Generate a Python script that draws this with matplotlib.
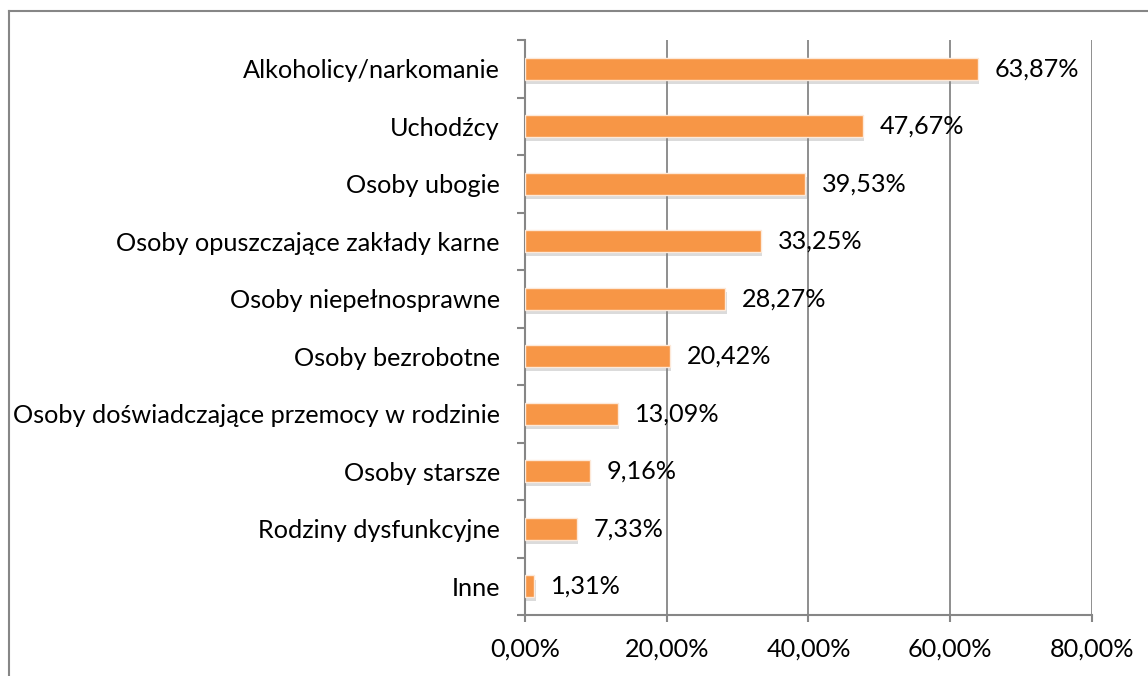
import numpy as np
import matplotlib
matplotlib.use("Agg")
import matplotlib.pyplot as plt
import matplotlib.patheffects as pe
from matplotlib.lines import Line2D

# ── data ───────────────────────────────────────────────────────────────────
categories = [
    "Alkoholicy/narkomanie",
    "Uchodźcy",
    "Osoby ubogie",
    "Osoby opuszczające zakłady karne",
    "Osoby niepełnosprawne",
    "Osoby bezrobotne",
    "Osoby doświadczające przemocy w rodzinie",
    "Osoby starsze",
    "Rodziny dysfunkcyjne",
    "Inne",
]
values = [63.87, 47.67, 39.53, 33.25, 28.27, 20.42, 13.09, 9.16, 7.33, 1.31]
xticks = [0, 20, 40, 60, 80]

BAR = "#F79646"
AXC = "#868686"
FONT = ["Lato", "DejaVu Sans"]
FS = 18.2

plt.rcParams["font.family"] = FONT

fig = plt.figure(figsize=(11.48, 6.76), dpi=100)
ax = fig.add_axes([0.4573, 0.0902, 0.9512 - 0.4573, 0.9408 - 0.0902])

n = len(categories)
ypos = np.arange(n)[::-1]  # first category at top

shadow = [pe.SimplePatchShadow(offset=(1, -3), shadow_rgbFace="#8a8a8a", alpha=0.3),
          pe.Normal()]
bars = ax.barh(ypos, values, height=0.38, color=BAR, edgecolor="#fde9d9",
               linewidth=1.0, zorder=3)
for b in bars:
    b.set_path_effects(shadow)

# value labels
for y, v in zip(ypos, values):
    ax.annotate(f"{v:.2f}%".replace(".", ","), (v, y), xytext=(17, 0),
                textcoords="offset pixels",
                va="center", ha="left", fontsize=FS, color="black", zorder=4)

ax.set_xlim(0, 80)
ax.set_ylim(-0.5, n - 0.5)
ax.set_xticks(xticks)
ax.set_xticklabels([f"{t:.2f}%".replace(".", ",") for t in xticks], fontsize=FS)
ax.set_yticks(ypos)
ax.set_yticklabels(categories, fontsize=FS)
ax.set_yticks(np.arange(-0.5, n, 1.0), minor=True)

ax.tick_params(axis="y", which="major", length=0, pad=18)
ax.tick_params(axis="y", which="minor", length=6, width=1.5, color=AXC, direction="out")
ax.tick_params(axis="x", which="major", length=5, width=1.5, color=AXC, direction="out", pad=11)

ax.grid(True, axis="x", color=AXC, linewidth=1.3, zorder=0)
ax.set_axisbelow(True)
for s in ["top", "right"]:
    ax.spines[s].set_visible(False)
for s in ["left", "bottom"]:
    ax.spines[s].set_color(AXC)
    ax.spines[s].set_linewidth(1.5)

# outer frame (top and left visible)
fig.add_artist(Line2D([8.5 / 1148, 1.0], [1 - 10.5 / 676] * 2, transform=fig.transFigure,
                      color=AXC, lw=1.5))
fig.add_artist(Line2D([8.5 / 1148] * 2, [0, 1 - 10.5 / 676], transform=fig.transFigure,
                      color=AXC, lw=1.5))

plt.savefig("out.png", dpi=100)
plt.close()
